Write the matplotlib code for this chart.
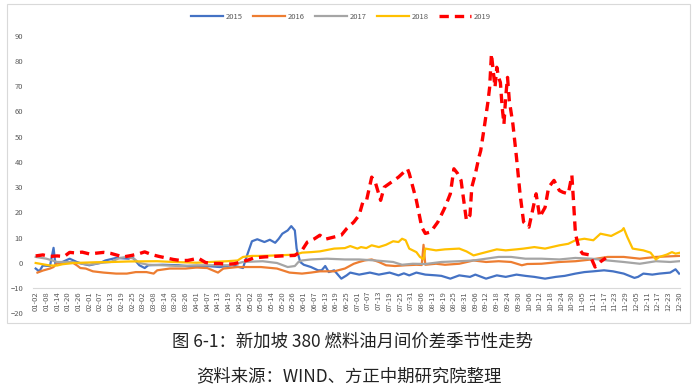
import matplotlib
matplotlib.use("Agg")
import matplotlib.pyplot as plt
import numpy as np
import pandas as pd
from matplotlib.patches import Rectangle

plt.rcParams['font.family'] = ['Noto Sans CJK SC', 'DejaVu Sans']

# category axis: trading days (MM-DD), a few holidays missing
days = pd.date_range('2016-01-02', '2016-12-30')
days = days[~days.strftime('%m-%d').isin(['05-01', '08-09', '12-25'])]
cats = list(days.strftime('%m-%d'))

d2015 = ['01-02', '01-04', '01-06', '01-10', '01-12', '01-13', '01-17', '01-21', '01-25', '01-28',
         '02-01', '02-07', '02-10', '02-16', '02-23', '02-25', '02-29', '03-03', '03-05', '03-13',
         '03-22', '04-01', '04-07', '04-14', '04-21', '04-27', '04-29', '05-03', '05-06', '05-10',
         '05-13', '05-16', '05-18', '05-20', '05-23', '05-25', '05-27', '05-28', '05-30', '06-01',
         '06-05', '06-09', '06-11', '06-13', '06-15', '06-18', '06-22', '06-25', '06-27', '07-02',
         '07-08', '07-13', '07-19', '07-24', '07-27', '07-30', '08-03', '08-08', '08-15', '08-18',
         '08-23', '08-28', '09-03', '09-06', '09-12', '09-18', '09-23', '09-29', '10-04', '10-09',
         '10-15', '10-21', '10-26', '11-01', '11-06', '11-11', '11-17', '11-22', '11-28', '12-04',
         '12-06', '12-09', '12-14', '12-18', '12-24', '12-28', '12-30']
v2015 = [-2.2, -3.3, -1.0, -1.2, 6.0, -0.3, 0.4, 1.7, 0.4, -0.3,
         -0.9, 0.0, 1.0, 2.0, 1.7, 2.4, -0.9, -2.0, -0.9, -0.7,
         -0.9, -1.6, -1.2, -1.6, -0.9, -2.0, 2.5, 8.6, 9.4, 8.3,
         9.2, 8.0, 9.6, 11.6, 12.9, 14.6, 12.9, 5.7, 0.4, -0.7,
         -1.6, -2.9, -2.9, -1.2, -3.6, -2.9, -6.2, -4.9, -3.8, -4.6,
         -3.8, -4.6, -3.8, -4.9, -4.1, -4.9, -3.8, -4.6, -4.9, -5.1,
         -6.2, -4.9, -5.5, -4.6, -6.2, -4.9, -5.5, -4.6, -5.1, -5.5,
         -6.2, -5.5, -5.1, -4.2, -3.6, -3.3, -2.9, -3.3, -4.2, -5.9,
         -5.5, -4.2, -4.6, -4.2, -3.8, -2.5, -4.2]

d2016 = ['01-03', '01-06', '01-10', '01-12', '01-14', '01-23', '01-25', '01-27', '01-30',
         '02-03', '02-09', '02-16', '02-22', '02-27', '03-04', '03-08', '03-10', '03-17', '03-26',
         '04-01', '04-07', '04-13', '04-16', '04-24', '05-03', '05-08', '05-17', '05-24', '05-31',
         '06-05', '06-10', '06-18', '06-24', '06-29', '07-02', '07-05', '07-09', '07-13', '07-17',
         '07-22', '07-28', '08-03', '08-06', '08-07', '08-08', '08-15', '08-20', '08-28', '09-05',
         '09-12', '09-19', '09-26', '10-02', '10-05', '10-13', '10-23', '11-01', '11-10', '11-19',
         '11-28', '12-07', '12-16', '12-30']
v2016 = [-3.8, -3.0, -2.2, -1.6, 0.0, 0.0, -0.9, -2.0, -2.2,
         -3.3, -3.8, -4.2, -4.2, -3.6, -3.6, -4.2, -2.9, -2.2, -2.2,
         -1.8, -2.0, -3.8, -2.2, -1.6, -1.6, -1.6, -2.2, -3.8, -4.2,
         -3.8, -3.3, -3.3, -2.2, -0.3, 0.4, 1.0, 1.4, 0.4, -0.9,
         -1.2, -0.9, -0.7, -0.8, 7.2, -0.7, -0.3, -0.7, -0.3, 1.0,
         0.4, 0.7, 0.4, -0.9, -0.4, -0.3, 0.4, 0.7, 1.4, 2.4,
         2.4, 1.7, 2.4, 2.8]

d2017 = ['01-02', '01-08', '01-14', '01-22', '01-28', '02-01', '02-07', '02-13', '02-18', '02-22',
         '02-26', '02-29', '03-05', '03-13', '03-22', '04-01', '04-07', '04-20', '04-27', '05-09',
         '05-17', '05-23', '05-27', '05-29', '05-31', '06-05', '06-14', '06-24', '07-02', '07-11',
         '07-21', '07-26', '08-01', '08-08', '08-18', '08-28', '09-05', '09-12', '09-19', '09-26',
         '10-04', '10-13', '10-23', '11-01', '11-10', '11-19', '11-28', '12-07', '12-16', '12-24',
         '12-30']
v2017 = [2.4, 1.7, 0.4, 0.4, -0.3, -0.7, 0.0, 0.4, 2.0, 2.4,
         1.7, 0.0, -0.7, -0.9, -1.2, -0.9, -0.9, -0.9, 0.4, 0.7,
         0.0, -1.6, -1.2, 0.4, 1.0, 1.4, 1.7, 1.4, 1.4, 1.0,
         0.4, -0.7, -0.3, -0.4, 0.4, 0.7, 1.0, 1.7, 2.4, 2.4,
         1.7, 1.7, 1.4, 2.0, 1.7, 1.0, 0.4, -0.3, 0.7, 0.4,
         0.7]

d2018 = ['01-02', '01-06', '01-10', '01-14', '01-17', '01-23', '02-05', '02-14', '02-23', '03-10',
         '03-19', '04-01', '04-09', '04-18', '04-24', '04-27', '05-03', '05-08', '05-17', '05-27',
         '05-31', '06-05', '06-10', '06-18', '06-24', '06-27', '07-01', '07-03', '07-06', '07-09',
         '07-13', '07-17', '07-21', '07-24', '07-26', '07-28', '07-30', '08-03', '08-05', '08-07',
         '08-08', '08-15', '08-20', '08-28', '09-01', '09-05', '09-12', '09-18', '09-23', '09-29',
         '10-03', '10-09', '10-15', '10-23', '10-28', '11-01', '11-06', '11-11', '11-15', '11-21',
         '11-27', '11-28', '11-30', '12-03', '12-09', '12-13', '12-16', '12-18', '12-22', '12-26',
         '12-28', '12-30']
v2018 = [0.0, -0.5, -1.0, -1.0, -0.5, 0.0, 0.3, 0.4, 0.6, 0.7,
         0.4, 0.1, 0.4, 0.7, 1.0, 2.4, 2.8, 2.8, 3.0, 3.3,
         4.1, 4.3, 4.6, 5.7, 5.9, 6.7, 5.7, 6.3, 5.9, 7.0,
         6.3, 7.2, 8.6, 8.3, 9.6, 9.0, 5.7, 4.3, 2.4, 1.5,
         5.7, 5.0, 5.4, 5.7, 4.6, 3.0, 4.3, 5.4, 5.0, 5.4,
         5.7, 6.3, 5.7, 7.0, 7.6, 9.0, 9.6, 9.0, 11.6, 10.7,
         12.9, 13.8, 10.3, 5.7, 5.0, 4.1, 1.4, 2.4, 3.3, 4.3,
         3.7, 4.0]

d2019 = ['01-02', '01-06', '01-10', '01-14', '01-18', '01-21', '01-24', '01-28',
         '02-01', '02-05', '02-09', '02-13', '02-17', '02-20', '02-24', '02-28',
         '03-03', '03-07', '03-11', '03-15', '03-19', '03-23', '03-27', '03-31',
         '04-02', '04-06', '04-10', '04-14', '04-18', '04-22', '04-26', '04-30',
         '05-04', '05-10', '05-15', '05-20', '05-27', '05-31',
         '06-03', '06-07', '06-10', '06-13', '06-18', '06-22', '06-25', '06-29',
         '07-02', '07-04', '07-06', '07-09', '07-11', '07-14', '07-16', '07-20', '07-24', '07-29', '07-30',
         '08-03', '08-06', '08-08', '08-12', '08-16', '08-20', '08-23', '08-25', '08-27', '08-29', '08-30',
         '09-01', '09-03', '09-04', '09-06', '09-08', '09-09', '09-11', '09-13', '09-14', '09-15', '09-16',
         '09-17', '09-18', '09-19', '09-20', '09-21', '09-22', '09-23', '09-24', '09-25', '09-27', '09-29',
         '10-01', '10-03', '10-06', '10-08', '10-10', '10-12', '10-15', '10-17', '10-20', '10-23', '10-25',
         '10-28', '10-30', '10-31',
         '11-01', '11-03', '11-05', '11-09', '11-12', '11-15', '11-18']
v2019 = [2.8, 3.2, 2.6, 2.8, 2.6, 4.2, 4.0, 4.3,
         3.6, 3.9, 4.2, 3.8, 3.0, 2.4, 2.9, 3.5,
         4.4, 3.3, 2.6, 2.0, 1.4, 1.0, 1.0, 1.6,
         1.9, 0.2, -0.2, -0.2, -0.5, -0.3, 0.4, 1.2,
         2.0, 2.4, 2.6, 2.8, 3.0, 5.0,
         8.3, 9.6, 11.0, 9.4, 10.3, 11.0, 13.6, 16.2,
         19.0, 24.0, 24.4, 34.0, 32.0, 24.8, 30.0, 32.0, 34.0, 37.3, 35.5,
         24.8, 14.2, 11.7, 12.3, 16.2, 22.0, 27.4, 37.3, 35.5, 32.7, 27.4,
         16.9, 18.9, 30.0, 35.3, 41.9, 44.5, 53.8, 63.6, 69.6, 82.8, 76.0,
         69.6, 77.5, 73.5, 71.5, 61.7, 55.0, 66.0, 73.5, 64.3, 55.0, 41.9,
         27.4, 16.2, 14.2, 20.8, 27.4, 18.2, 22.0, 30.0, 32.7, 28.7, 28.0,
         27.4, 34.7, 23.5,
         11.6, 5.7, 3.7, 3.2, -1.6, 0.5, 2.0]

pos = {c: i for i, c in enumerate(cats)}

fig = plt.figure(figsize=(6.97, 3.87), dpi=100)
ax = fig.add_axes([33 / 697, 1 - 313.5 / 387, (680 - 33) / 697, (313.5 - 35.7) / 387])

# axis line sits at -10, labels hang below it (set before ticks: it resets them)
for s in ['top', 'right', 'left']:
    ax.spines[s].set_visible(False)
ax.spines['bottom'].set_position(('data', -10))
ax.spines['bottom'].set_color('#d9d9d9')
ax.spines['bottom'].set_linewidth(0.8)

series = [
    ('2015', d2015, v2015, '#4472C4', '-', 1.6),
    ('2016', d2016, v2016, '#ED7D31', '-', 1.6),
    ('2017', d2017, v2017, '#A5A5A5', '-', 1.6),
    ('2018', d2018, v2018, '#FFC000', '-', 1.6),
    ('2019', d2019, v2019, '#FF0000', '--', 2.4),
]
for name, d, v, col, ls, lw in series:
    x = np.array([pos[s] for s in d])
    line, = ax.plot(x, np.array(v), color=col, lw=lw, ls=ls, label=name)
    if ls == '--':
        line.set_dashes((2.8, 1.8))

ax.set_ylim(-20, 90)
ax.set_xlim(-1.5, len(cats) - 0.5)
ax.set_yticks(np.arange(-20, 91, 10))
ax.set_xticks(np.arange(0, len(cats), 6))
ax.set_xticklabels(cats[::6])
ax.tick_params(axis='both', length=0, labelsize=5.5, colors='#595959')
ax.tick_params(axis='y', pad=7)
ax.tick_params(axis='x', pad=2, labelrotation=90)

ax.legend(loc='center', bbox_to_anchor=(341 / 697, 1 - 17 / 387), bbox_transform=fig.transFigure,
          ncol=5, frameon=False, fontsize=5.5, handlelength=4.2, columnspacing=1.3,
          handletextpad=0.4, labelcolor='#595959')

fig.add_artist(Rectangle((7 / 697, 1 - 323 / 387), 683 / 697, 319 / 387,
                         transform=fig.transFigure, fill=False, ec='#d9d9d9', lw=0.8))

fig.text(352 / 697, 1 - 342 / 387, '图 6-1：新加坡 380 燃料油月间价差季节性走势',
         ha='center', va='center', fontsize=12.5, color='#222222')
fig.text(349 / 697, 1 - 376 / 387, '资料来源：WIND、方正中期研究院整理',
         ha='center', va='center', fontsize=12.5, color='#222222')

fig.savefig('out.png', dpi=100)
